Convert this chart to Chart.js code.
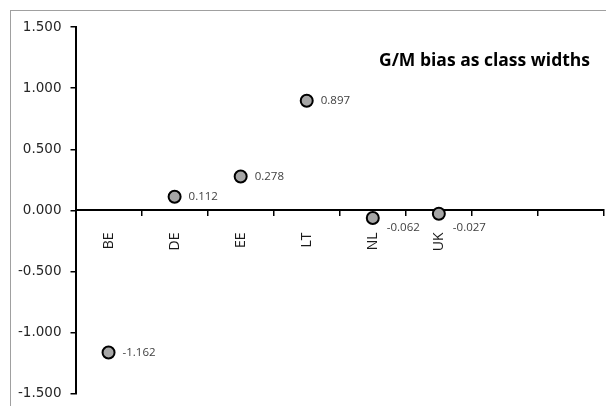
<!DOCTYPE html>
<html>
<head>
<meta charset="utf-8">
<script src="https://cdn.jsdelivr.net/npm/chart.js@4/dist/chart.umd.min.js"></script>
<style>
  html, body { margin: 0; padding: 0; background: #fff; }
  #wrap { position: relative; width: 606px; height: 406px; overflow: hidden; }
  #frame { position: absolute; left: 10px; top: 10px; width: 700px; height: 500px;
           border-top: 1px solid #a0a0a0; border-left: 1px solid #a0a0a0; }
  #grafico { position: absolute; left: 0; top: 0; }
</style>
</head>
<body>
<div id="wrap">
  <div id="frame"></div>
  <canvas id="grafico" width="612" height="411"></canvas>
</div>
<script>
// datos
var paises = ['BE', 'DE', 'EE', 'LT', 'NL', 'UK', '', ''];
var sesgo = [-1.162, 0.112, 0.278, 0.897, -0.062, -0.027];
var titulo = 'G/M bias as class widths';

// etiquetas de valor al lado de cada punto
var etiquetasValor = {
    id: 'etiquetasValor',
    afterDatasetsDraw: function (chart) {
        var ctx = chart.ctx;
        var meta = chart.getDatasetMeta(0);
        var cero = chart.scales.y.getPixelForValue(0);
        ctx.save();
        ctx.font = '11.5px "Open Sans"';
        ctx.fillStyle = '#404040';
        ctx.textAlign = 'left';
        ctx.textBaseline = 'middle';
        meta.data.forEach(function (punto, i) {
            var v = sesgo[i];
            var y = punto.y;
            // si queda pegado al eje por debajo, bajar la etiqueta
            if (v < 0 && y - cero < 20) y = cero + 17;
            ctx.fillText(v.toFixed(3), punto.x + 14, y);
        });
        ctx.restore();
    }
};

// titulo dentro del area del grafico
var tituloInterno = {
    id: 'tituloInterno',
    afterDraw: function (chart) {
        var ctx = chart.ctx;
        var area = chart.chartArea;
        ctx.save();
        ctx.font = 'bold 17.5px "Open Sans"';
        ctx.fillStyle = '#000';
        ctx.textAlign = 'right';
        ctx.textBaseline = 'middle';
        ctx.fillText(titulo, area.right - 14, area.top + 34);
        ctx.restore();
    }
};

document.addEventListener("DOMContentLoaded", function () {
    var ctx = document.getElementById("grafico").getContext("2d");
    var myChart = new Chart(ctx, {
        type: 'line',
        data: {
            labels: paises,
            datasets: [{
                label: titulo,
                data: sesgo,
                showLine: false,
                pointRadius: 6,
                pointHoverRadius: 6,
                pointBorderWidth: 2,
                pointBackgroundColor: '#a6a6a6',
                pointBorderColor: '#000'
            }]
        },
        options: {
            responsive: false,
            animation: false,
            layout: { padding: { left: 9, top: 27, right: 0, bottom: 0 } },
            plugins: {
                legend: { display: false },
                tooltip: { enabled: false }
            },
            scales: {
                x: {
                    type: 'category',
                    position: { y: 0 },
                    offset: true,
                    border: { color: '#000', width: 2 },
                    grid: { offset: true, drawOnChartArea: false, tickLength: 5, color: '#000', lineWidth: 1.5 },
                    ticks: {
                        autoSkip: false,
                        maxRotation: 90,
                        minRotation: 90,
                        padding: 17,
                        color: '#1a1a1a',
                        font: { family: '"Open Sans"', size: 14 }
                    }
                },
                y: {
                    min: -1.5,
                    max: 1.5,
                    border: { color: '#000', width: 2 },
                    grid: { drawOnChartArea: false, tickLength: 5, color: '#000', lineWidth: 1.5 },
                    ticks: {
                        stepSize: 0.5,
                        padding: 9,
                        color: '#262626',
                        font: { family: '"DejaVu Sans"', size: 13.5 },
                        callback: function (v) { return v.toFixed(3); }
                    }
                }
            }
        },
        plugins: [etiquetasValor, tituloInterno]
    });
});
</script>
</body>
</html>
